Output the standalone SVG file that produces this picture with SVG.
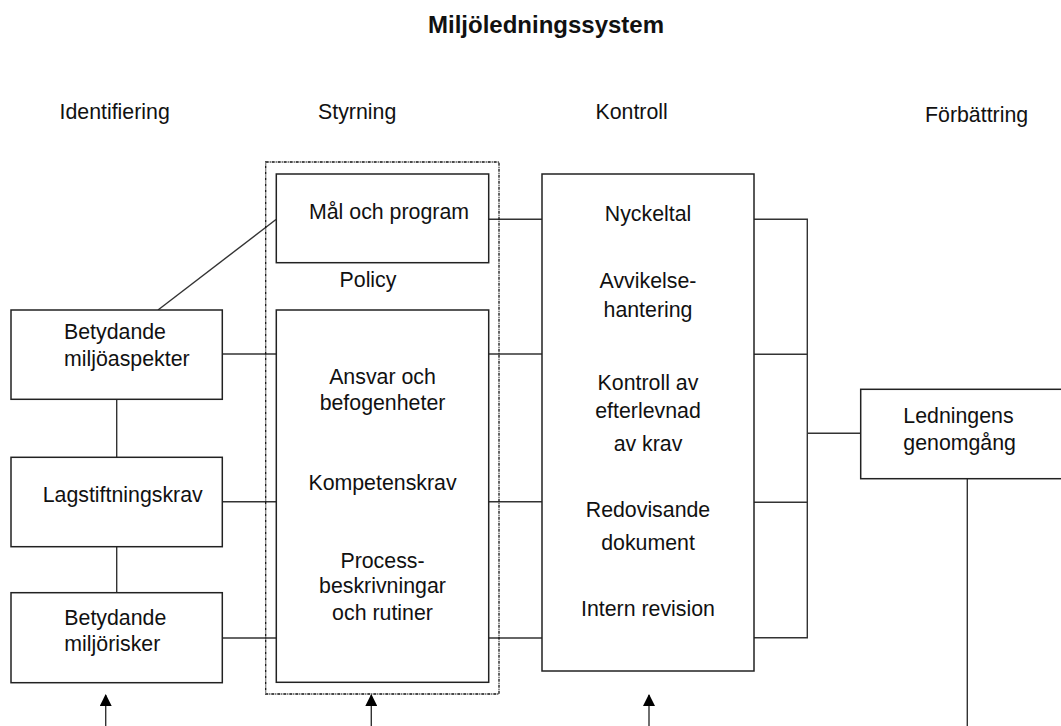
<svg xmlns="http://www.w3.org/2000/svg" width="1061" height="726" viewBox="0 0 1061 726">
<style>
text{font-family:"Liberation Sans",Arial,sans-serif;font-size:21.33px;fill:#111}
.t{font-weight:bold;font-size:24px}
.c{text-anchor:middle}
.box{fill:#fff;stroke:#222;stroke-width:1.5}
.ln{stroke:#333;stroke-width:1.4;fill:none}
.dot{fill:none;stroke:#111;stroke-width:1.3;stroke-dasharray:3 1 1 1}
</style>
<defs>
<marker id="ah" markerWidth="12" markerHeight="12" refX="11" refY="6" orient="auto" markerUnits="userSpaceOnUse">
<path d="M0,0 L12,6 L0,12 z" fill="#000"/>
</marker>
</defs>
<rect width="1061" height="726" fill="#fff"/>
<text class="t c" x="546" y="33">Miljöledningssystem</text>
<text x="59.5" y="118.5">Identifiering</text>
<text x="318" y="118.5">Styrning</text>
<text x="595.5" y="118.5">Kontroll</text>
<text x="925" y="121.5">Förbättring</text>

<g id="connectors">
<line class="ln" x1="158" y1="310" x2="276" y2="219.5"/>
<line class="ln" x1="222" y1="354" x2="276" y2="354"/>
<line class="ln" x1="222" y1="501.7" x2="276" y2="501.7"/>
<line class="ln" x1="222" y1="638" x2="276" y2="638"/>
<line class="ln" x1="116.7" y1="399.3" x2="116.7" y2="457.3"/>
<line class="ln" x1="116.7" y1="546.7" x2="116.7" y2="592.7"/>
<line class="ln" x1="488.7" y1="219.3" x2="542" y2="219.3"/>
<line class="ln" x1="488.7" y1="354" x2="542" y2="354"/>
<line class="ln" x1="488.7" y1="501.7" x2="542" y2="501.7"/>
<line class="ln" x1="488.7" y1="638" x2="542" y2="638"/>
<path class="ln" d="M754,219.3 H807.3 V637.7 H754 M754,354.3 H807.3 M754,502.3 H807.3 M807.3,433.3 H861"/>
<line class="ln" x1="967.3" y1="478.7" x2="967.3" y2="726"/>
<line class="ln" x1="105.7" y1="726" x2="105.7" y2="695" marker-end="url(#ah)"/>
<line class="ln" x1="371.3" y1="726" x2="371.3" y2="695" marker-end="url(#ah)"/>
<line class="ln" x1="649" y1="726" x2="649" y2="695" marker-end="url(#ah)"/>
</g>

<g id="styrning-group">
<rect class="dot" x="265.7" y="162" width="233.3" height="532"/>
</g>
<g id="mal">
<rect class="box" x="276.3" y="174" width="212.4" height="88.7"/>
<text class="c" x="389" y="219">Mål och program</text>
</g>
<g id="policy">
<text class="c" x="368" y="286.7">Policy</text>
</g>
<g id="ansvar">
<rect class="box" x="276.3" y="310" width="212.4" height="372.3"/>
<text class="c" x="382.5" y="384.3">Ansvar och</text>
<text class="c" x="382.5" y="410">befogenheter</text>
<text class="c" x="382.5" y="490">Kompetenskrav</text>
<text class="c" x="382.5" y="568.3">Process-</text>
<text class="c" x="382.5" y="593.3">beskrivningar</text>
<text class="c" x="382.5" y="620">och rutiner</text>
</g>
<g id="aspekter">
<rect class="box" x="11" y="310" width="211.3" height="89.3"/>
<text x="64" y="339.3">Betydande</text>
<text x="64" y="366">miljöaspekter</text>
</g>
<g id="lagstiftning">
<rect class="box" x="11" y="457.3" width="211.3" height="89.4"/>
<text x="42.7" y="501.7">Lagstiftningskrav</text>
</g>
<g id="risker">
<rect class="box" x="11" y="592.7" width="211.3" height="90"/>
<text x="64.3" y="625">Betydande</text>
<text x="64.3" y="650.7">miljörisker</text>
</g>
<g id="kontroll">
<rect class="box" x="542" y="174" width="212" height="497"/>
<text class="c" x="648" y="221">Nyckeltal</text>
<text class="c" x="648" y="288.3">Avvikelse-</text>
<text class="c" x="648" y="317">hantering</text>
<text class="c" x="648" y="390">Kontroll av</text>
<text class="c" x="648" y="418">efterlevnad</text>
<text class="c" x="648" y="451">av krav</text>
<text class="c" x="648" y="517">Redovisande</text>
<text class="c" x="648" y="550">dokument</text>
<text class="c" x="648" y="616">Intern revision</text>
</g>
<g id="ledningens">
<rect class="box" x="860.7" y="389.3" width="215" height="89.4"/>
<text x="903.3" y="423.3">Ledningens</text>
<text x="903.3" y="450">genomgång</text>
</g>
</svg>
